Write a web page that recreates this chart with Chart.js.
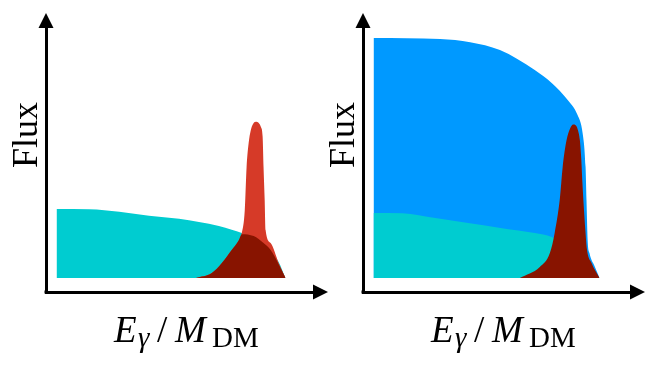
<!DOCTYPE html>
<html>
<head>
<meta charset="utf-8">
<script src="https://cdn.jsdelivr.net/npm/chart.js@4/dist/chart.umd.min.js"></script>
<style>
    body { margin: 0; background: #fff; width: 665px; height: 371px; overflow: hidden; position: relative; }
    canvas { position: absolute; top: 0; }
    #leftChart { left: 0; }
    #rightChart { left: 317px; }
</style>
</head>
<body>
<canvas id="leftChart" width="332" height="371"></canvas>
<canvas id="rightChart" width="332" height="371"></canvas>
<script>
/* Data START (E = E_gamma / M_DM normalised, flux normalised to the blue plateau) */
var leftCyanE    = [0, 0.143, 0.274, 0.404, 0.535, 0.622, 0.709, 0.765, 0.809, 0.861, 0.904, 0.935, 0.970, 1.0];
var leftCyanFlux = [0.288, 0.287, 0.276, 0.260, 0.247, 0.234, 0.217, 0.201, 0.188, 0.175, 0.146, 0.117, 0.067, 0];

var leftLineE    = [0.609, 0.678, 0.722, 0.765, 0.796, 0.809, 0.822, 0.830, 0.839, 0.848, 0.857, 0.870, 0.883, 0.893, 0.900, 0.904, 0.909, 0.913, 0.935, 0.970, 1.0];
var leftLineFlux = [0, 0.021, 0.063, 0.117, 0.158, 0.188, 0.283, 0.463, 0.563, 0.615, 0.640, 0.651, 0.646, 0.628, 0.590, 0.463, 0.325, 0.200, 0.146, 0.063, 0];

var leftOverlapE    = [0.609, 0.678, 0.722, 0.765, 0.796, 0.809, 0.861, 0.904, 0.935, 0.970, 1.0];
var leftOverlapFlux = [0, 0.021, 0.063, 0.117, 0.158, 0.183, 0.175, 0.146, 0.117, 0.058, 0];

var rightBlueE    = [0, 0.291, 0.422, 0.552, 0.704, 0.778, 0.848, 0.891, 0.913, 0.926, 0.930, 0.935, 0.943, 0.965, 0.987];
var rightBlueFlux = [1.0, 0.996, 0.983, 0.950, 0.867, 0.813, 0.742, 0.679, 0.604, 0.463, 0.325, 0.158, 0.104, 0.050, 0];

var rightCyanE    = [0, 0.126, 0.270, 0.413, 0.561, 0.704, 0.778, 0.835, 0.878, 0.909];
var rightCyanFlux = [0.271, 0.270, 0.250, 0.229, 0.208, 0.188, 0.171, 0.138, 0.075, 0];

var rightLineE    = [0.639, 0.726, 0.770, 0.791, 0.813, 0.826, 0.843, 0.858, 0.872, 0.884, 0.893, 0.901, 0.907, 0.912, 0.918, 0.925, 0.932, 0.952, 0.987];
var rightLineFlux = [0, 0.046, 0.104, 0.188, 0.325, 0.463, 0.575, 0.622, 0.640, 0.636, 0.615, 0.575, 0.500, 0.400, 0.300, 0.200, 0.120, 0.063, 0];

var colCyan = '#00CCD0';
var colBlue = '#0099FF';
var colRed = '#D63A28';
var colDarkRed = '#881400';
/* Data END */

function makePoints(eArr, fArr) {
    return eArr.map((e, i) => ({x: e, y: fArr[i]}));
}

function areaSet(label, eArr, fArr, color, order) {
    return {
        label: label,
        data: makePoints(eArr, fArr),
        backgroundColor: color,
        borderColor: color,
        borderWidth: 0,
        pointRadius: 0,
        fill: 'origin',
        cubicInterpolationMode: 'monotone',
        order: order
    };
}

// arrows on the axes + the two axis labels
var axisDecor = {
    id: 'axisDecor',
    afterDraw(chart) {
        var ctx = chart.ctx;
        var a = chart.chartArea;
        ctx.save();
        ctx.fillStyle = '#000';
        ctx.fillRect(a.left - 1.5, a.bottom - 1.5, 3, 3);

        ctx.beginPath();
        ctx.moveTo(a.left - 7.5, a.top);
        ctx.lineTo(a.left + 7.5, a.top);
        ctx.lineTo(a.left, a.top - 15);
        ctx.closePath();
        ctx.fill();

        ctx.beginPath();
        ctx.moveTo(a.right, a.bottom - 7.5);
        ctx.lineTo(a.right, a.bottom + 7.5);
        ctx.lineTo(a.right + 15, a.bottom);
        ctx.closePath();
        ctx.fill();

        // Flux
        ctx.save();
        ctx.translate(a.left - 9, a.top + 107);
        ctx.rotate(-Math.PI / 2);
        ctx.font = '36px "Liberation Serif"';
        ctx.textAlign = 'center';
        ctx.textBaseline = 'alphabetic';
        ctx.fillText('Flux', 0, 0);
        ctx.restore();

        // E_gamma / M_DM
        var x0 = a.left + 68;
        var base = a.bottom + 50;
        ctx.textAlign = 'left';
        ctx.textBaseline = 'alphabetic';
        ctx.font = 'italic 37px "Liberation Serif"';
        ctx.fillText('E', x0, base);
        ctx.font = 'italic 29px "Liberation Serif"';
        ctx.fillText('γ', x0 + 24, base + 5);
        ctx.font = '37px "Liberation Serif"';
        ctx.fillText('/', x0 + 43, base);
        ctx.font = 'italic 37px "Liberation Serif"';
        ctx.fillText('M', x0 + 61, base);
        ctx.font = '29px "Liberation Serif"';
        ctx.fillText('DM', x0 + 98, base + 5);
        ctx.restore();
    }
};

function createPanel(canvasId, datasets) {
    return new Chart(canvasId, {
        type: 'line',
        data: { datasets: datasets },
        options: {
            responsive: false,
            animation: false,
            layout: { padding: { left: 46, right: 19, top: 28, bottom: 79 } },
            plugins: { legend: { display: false }, tooltip: { enabled: false } },
            scales: {
                x: {
                    type: 'linear', min: -0.046, max: 1.12,
                    ticks: { display: false },
                    grid: { display: false, drawTicks: false },
                    border: { display: true, color: '#000', width: 3 }
                },
                y: {
                    type: 'linear', min: -0.058, max: 1.042,
                    ticks: { display: false },
                    grid: { display: false, drawTicks: false },
                    border: { display: true, color: '#000', width: 3 }
                }
            }
        },
        plugins: [axisDecor]
    });
}

function init() {
    createPanel('leftChart', [
        areaSet('overlap', leftOverlapE, leftOverlapFlux, colDarkRed, 1),
        areaSet('line', leftLineE, leftLineFlux, colRed, 2),
        areaSet('continuum', leftCyanE, leftCyanFlux, colCyan, 3)
    ]);
    createPanel('rightChart', [
        areaSet('line', rightLineE, rightLineFlux, colDarkRed, 1),
        areaSet('continuum', rightCyanE, rightCyanFlux, colCyan, 2),
        areaSet('extra continuum', rightBlueE, rightBlueFlux, colBlue, 3)
    ]);
}

init();
</script>
</body>
</html>
